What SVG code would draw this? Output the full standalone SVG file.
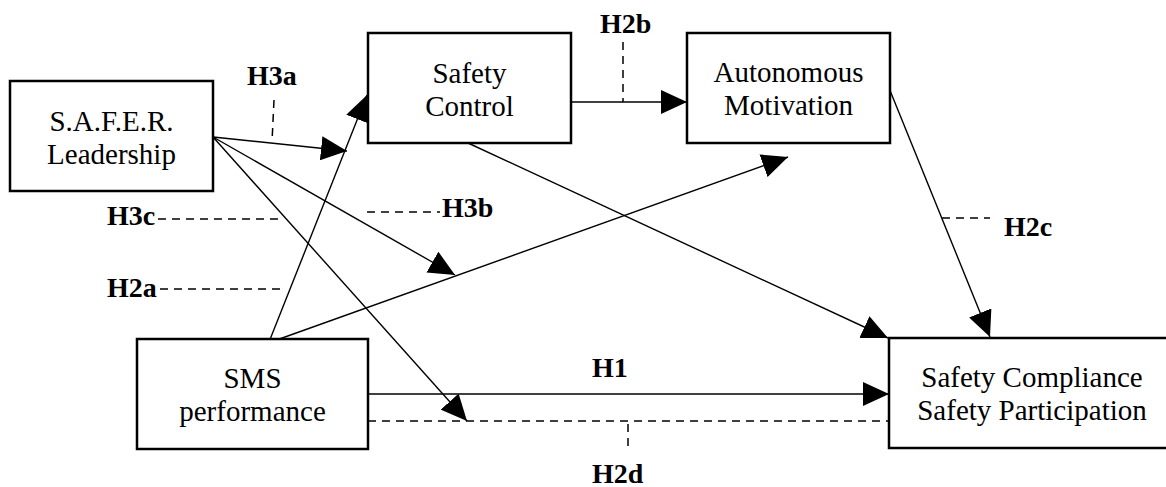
<svg xmlns="http://www.w3.org/2000/svg" width="1166" height="487" viewBox="0 0 1166 487">
<style>
.box{fill:#fff;stroke:#000;stroke-width:2.5}
.t{font-family:"Liberation Serif","Times New Roman",serif;font-size:29px;fill:#000;text-anchor:middle}
.lab{font-family:"Liberation Serif","Times New Roman",serif;font-size:28px;font-weight:bold;fill:#000}
.ln{stroke:#000;stroke-width:1.4;fill:none}
.arr{marker-end:url(#ah)}
.dash{stroke:#000;stroke-width:1.5;fill:none;stroke-dasharray:8 6}
</style>
<defs>
<marker id="ah" markerUnits="userSpaceOnUse" markerWidth="26" markerHeight="24" refX="26" refY="12" orient="auto">
<path d="M0,0 L26,12 L0,24 z" fill="#000"/>
</marker>
</defs>
<rect width="1166" height="487" fill="#fff"/>
<g id="connectors">
<line class="ln arr" x1="213" y1="137" x2="347" y2="151"/>
<line class="ln arr" x1="213" y1="137" x2="455" y2="275"/>
<line class="ln arr" x1="213" y1="137" x2="467" y2="421"/>
<line class="ln arr" x1="269" y1="342" x2="367" y2="95"/>
<line class="ln arr" x1="271" y1="342" x2="788" y2="157"/>
<line class="ln arr" x1="571" y1="102" x2="687" y2="102"/>
<line class="ln arr" x1="468" y1="143" x2="888" y2="338"/>
<line class="ln arr" x1="889" y1="88" x2="990" y2="337"/>
<line class="ln arr" x1="368" y1="394" x2="889" y2="394"/>
<line class="dash" x1="368" y1="421" x2="889" y2="421"/>
</g>
<g id="hypotheses">
<line class="dash" x1="274" y1="100" x2="272" y2="142"/>
<text class="lab" x="247" y="85">H3a</text>
<line class="dash" x1="623" y1="42" x2="623" y2="102"/>
<text class="lab" x="600" y="33">H2b</text>
<line class="dash" x1="158" y1="219" x2="281" y2="219"/>
<text class="lab" x="107" y="225">H3c</text>
<line class="dash" x1="160" y1="289" x2="281" y2="289"/>
<text class="lab" x="107" y="297">H2a</text>
<line class="dash" x1="367" y1="212" x2="440" y2="212"/>
<text class="lab" x="442" y="217">H3b</text>
<line class="dash" x1="942" y1="218" x2="990" y2="218"/>
<text class="lab" x="1004" y="236">H2c</text>
<text class="lab" x="592" y="377">H1</text>
<line class="dash" x1="628" y1="424" x2="628" y2="446"/>
<text class="lab" x="592" y="483">H2d</text>
</g>
<g id="safer">
<rect class="box" x="10" y="81" width="203" height="110"/>
<text class="t" x="111.5" y="131">S.A.F.E.R.</text>
<text class="t" x="111.5" y="164">Leadership</text>
</g>
<g id="safety-control">
<rect class="box" x="368" y="33" width="203" height="110"/>
<text class="t" x="469.5" y="83">Safety</text>
<text class="t" x="469.5" y="116">Control</text>
</g>
<g id="autonomous-motivation">
<rect class="box" x="687" y="33" width="203" height="110"/>
<text class="t" x="788.5" y="82">Autonomous</text>
<text class="t" x="788.5" y="115">Motivation</text>
</g>
<g id="sms">
<rect class="box" x="137" y="339" width="231" height="110"/>
<text class="t" x="252.5" y="388">SMS</text>
<text class="t" x="252.5" y="421">performance</text>
</g>
<g id="outcome">
<rect class="box" x="889" y="338" width="280" height="110"/>
<text class="t" x="1032" y="387">Safety Compliance</text>
<text class="t" x="1032" y="420">Safety Participation</text>
</g>
</svg>
